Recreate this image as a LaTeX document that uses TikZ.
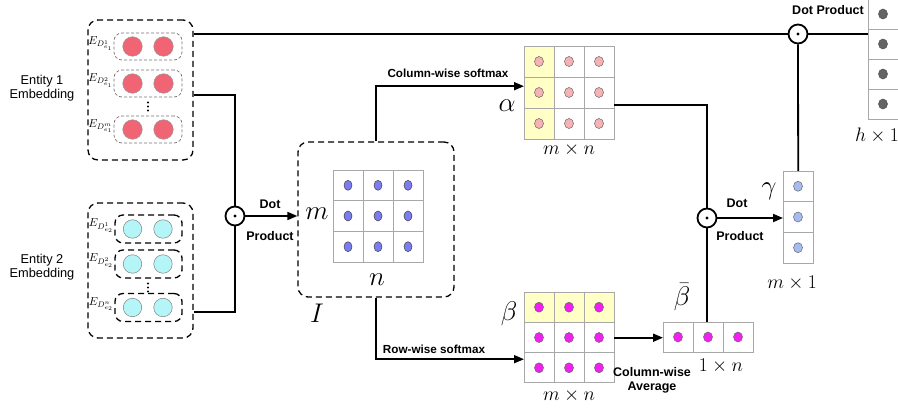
\RequirePackage{fix-cm}
\documentclass[tikz,border=0pt]{standalone}
\usepackage{fontspec}
\newfontfamily\labelfont{Liberation Sans}
\usetikzlibrary{arrows.meta}

\definecolor{entred}{HTML}{F06474}
\definecolor{entcyan}{HTML}{B4F6F8}
\definecolor{simblue}{HTML}{7C7CF2}
\definecolor{alphapink}{HTML}{F6B2B4}
\definecolor{betamag}{HTML}{F020F0}
\definecolor{gamblue}{HTML}{A4BCF0}
\definecolor{hgray}{HTML}{646464}
\definecolor{hilite}{HTML}{FFFFC6}
\definecolor{cellline}{HTML}{A8A8A8}

\begin{document}
\begin{tikzpicture}[x=1pt,y=-1pt,
  conn/.style={line width=1.8pt, draw=black},
  arr/.style={conn, -{Triangle[length=10pt,width=8pt]}},
  odot/.style={circle, draw, line width=1.8pt, minimum size=19pt, inner sep=0pt, fill=white},
  outerbox/.style={draw, line width=1.3pt, dash pattern=on 6pt off 4pt, rounded corners=10pt, inner sep=0pt},
  rowboxA/.style={draw=black!55, line width=0.7pt, dash pattern=on 3pt off 2pt, rounded corners=8pt,
    minimum width=68pt, minimum height=27pt, inner sep=0pt},
  rowboxB/.style={draw, line width=1.3pt, dash pattern=on 6pt off 4pt, rounded corners=8pt,
    minimum width=67pt, minimum height=28pt, inner sep=0pt},
  redball/.style={circle, fill=entred, draw=black!40, line width=0.5pt, minimum size=19.5pt, inner sep=0pt},
  cyanball/.style={circle, fill=entcyan, draw=black!50, line width=0.5pt, minimum size=18.5pt, inner sep=0pt},
  cell/.style={draw=cellline, line width=0.8pt},
  matbox/.style={inner sep=0pt, anchor=north west},
  bluedot/.style={fill=simblue, draw=black!75, line width=0.5pt},
  pinkdot/.style={fill=alphapink, draw=black!60, line width=0.5pt},
  magdot/.style={fill=betamag, draw=black!60, line width=0.5pt},
  gamdot/.style={fill=gamblue, draw=black!60, line width=0.5pt},
  graydot/.style={fill=hgray, draw=black!70, line width=0.5pt},
  sanslab/.style={font=\labelfont\fontsize{12.8}{14}\selectfont, align=center},
  boldlab/.style={font=\labelfont\bfseries\fontsize{12.5}{14}\selectfont},
  softlab/.style={font=\labelfont\bfseries\fontsize{11.7}{13}\selectfont},
  biglab/.style={font=\fontsize{27}{27}\selectfont, inner sep=0pt},
  dimlab/.style={font=\fontsize{19.5}{19.5}\selectfont, inner sep=0pt},
  elab/.style={font=\fontsize{11.5}{11.5}\selectfont, inner sep=0pt, anchor=base east}
]
\useasboundingbox (0,0) rectangle (898,414);
\clip (0,0) rectangle (898,414);

% ---------- entity 1 embedding ----------
\node[sanslab] (lab1) at (42,88) {Entity 1\\Embedding};
\node[outerbox, minimum width=105pt, minimum height=140pt] (e1) at (140.5,90) {};
\node[rowboxA] (r11) at (148,46.5) {};
\node[rowboxA] (r12) at (148,83.5) {};
\node[rowboxA] (r13) at (148,129.5) {};
\foreach \r/\yy in {r11/46.5, r12/83.5, r13/129.5}{
  \node[redball] (\r a) at (132.5,\yy) {};
  \node[redball] (\r b) at (163.5,\yy) {};
}
\node[elab] (el11) at (113.3,44.5) {$E_{D^{1}_{e_1}}$};
\node[elab] (el12) at (113.3,81.5) {$E_{D^{2}_{e_1}}$};
\node[elab] (el13) at (113.3,127.5) {$E_{D^{m}_{e_1}}$};
\foreach \yy in {102.5,106.5,110.5}{\fill (148,\yy) circle[radius=1.2pt];}

% ---------- entity 2 embedding ----------
\node[sanslab] (lab2) at (42,267) {Entity 2\\Embedding};
\node[outerbox, minimum width=105pt, minimum height=135pt] (e2) at (140.5,270.5) {};
\node[rowboxB] (r21) at (148.5,229) {};
\node[rowboxB] (r22) at (148.5,264) {};
\node[rowboxB] (r23) at (148.5,307.5) {};
\foreach \r/\yy in {r21/229, r22/264, r23/307.5}{
  \node[cyanball] (\r a) at (132.5,\yy) {};
  \node[cyanball] (\r b) at (163,\yy) {};
}
\node[elab] (el21) at (113.8,227) {$E_{D^{1}_{e_2}}$};
\node[elab] (el22) at (113.8,262) {$E_{D^{2}_{e_2}}$};
\node[elab] (el23) at (113.8,305.5) {$E_{D^{n}_{e_2}}$};
\foreach \yy in {283.5,287.5,291.5}{\fill (148,\yy) circle[radius=1.2pt];}

% ---------- interaction matrix I ----------
\node[outerbox, minimum width=156pt, minimum height=155pt] (Ibox) at (376,219.5) {};
\node[matbox, minimum width=90pt, minimum height=92pt] (Imat) at (333,170) {};
\foreach \i in {0,1,2}{\foreach \j in {0,1,2}{
  \draw[cell] ({333+30*\i},{170+30.7*\j}) rectangle ++(30,30.7);
  \filldraw[bluedot] ({348+30*\i},{185.3+30.7*\j}) ellipse[x radius=4pt, y radius=5pt];
}}
\node[biglab] (mlab) at (317,214) {$m$};
\node[biglab] (nlab) at (377,280) {$n$};
\node[biglab] (Ilab) at (317,313) {$I$};

% ---------- alpha ----------
\node[matbox, minimum width=90pt, minimum height=93pt] (alpha) at (524,46) {};
\fill[hilite] (524,46) rectangle (554,139);
\foreach \i in {0,1,2}{\foreach \j in {0,1,2}{
  \draw[cell] ({524+30*\i},{46+31*\j}) rectangle ++(30,31);
  \filldraw[pinkdot] ({539+30*\i},{61.5+31*\j}) ellipse[x radius=4.5pt, y radius=5pt];
}}
\node[biglab] (alab) at (507,106) {$\alpha$};
\node[dimlab] (amn) at (569,150) {$m\times n$};

% ---------- beta ----------
\node[matbox, minimum width=90pt, minimum height=91pt] (beta) at (524,292) {};
\fill[hilite] (524,292) rectangle (614,322.3);
\foreach \i in {0,1,2}{\foreach \j in {0,1,2}{
  \draw[cell] ({524+30*\i},{292+30.3*\j}) rectangle ++(30,30.3);
  \filldraw[magdot] ({539+30*\i},{307.2+30.3*\j}) ellipse[x radius=4.5pt, y radius=5pt];
}}
\node[biglab] (blab) at (509,314) {$\beta$};
\node[dimlab] (bmn) at (569,396) {$m\times n$};

% ---------- beta bar ----------
\node[matbox, minimum width=90pt, minimum height=30pt] (bbar) at (663,322) {};
\foreach \i in {0,1,2}{
  \draw[cell] ({663+30*\i},322) rectangle ++(30,30);
  \filldraw[magdot] ({678+30*\i},337) ellipse[x radius=4.5pt, y radius=5pt];
}
\node[biglab] (bblab) at (682,297) {$\bar{\beta}$};
\node[dimlab] (b1n) at (721,366) {$1\times n$};
\node[boldlab, align=center, inner sep=0pt] (cwavg) at (652,380) {Column-wise\\Average};

% ---------- gamma ----------
\node[matbox, minimum width=30pt, minimum height=92pt] (gamma) at (783,171) {};
\foreach \j in {0,1,2}{
  \draw[cell] (783,{171+30.7*\j}) rectangle ++(30,30.7);
  \filldraw[gamdot] (798,{186.3+30.7*\j}) ellipse[x radius=4.5pt, y radius=5pt];
}
\node[biglab] (glab) at (769,191) {$\gamma$};
\node[dimlab] (gm1) at (792,283) {$m\times 1$};

% ---------- h vector ----------
\node[matbox, minimum width=32pt, minimum height=120pt] (hvec) at (868,-1) {};
\foreach \j in {0,1,2,3}{
  \draw[cell] (868,{-1+30*\j}) rectangle ++(32,30);
  \filldraw[graydot] (883,{14+30*\j}) ellipse[x radius=4.5pt, y radius=5pt];
}
\node[dimlab] (h1) at (877,136) {$h\times 1$};

% ---------- dot-product junctions ----------
\node[odot] (dot1) at (235,216) {};
\node[odot] (dot2) at (707,218) {};
\node[odot] (dot3) at (798,34) {};
\foreach \d in {dot1,dot2,dot3}{\fill (\d) circle[radius=1.7pt];}

% ---------- connectors ----------
\draw[conn] ([yshift=-5pt]e1.east) -| (dot1.north);
\draw[conn] ([yshift=-41.5pt]e2.east) -| (dot1.south);
\draw[arr] (dot1.east) -- (dot1 -| Ibox.west);
\node[boldlab] (dp1a) at (270,204) {Dot};
\node[boldlab] (dp1b) at (270,236) {Product};

\draw[arr] (Ibox.north) |- ([yshift=6.5pt]alpha.west);
\node[softlab] (cws) at (448,73) {Column-wise softmax};
\draw[arr] (Ibox.south) |- ([yshift=-21.5pt]beta.west);
\node[softlab] (rws) at (434,349) {Row-wise softmax};

\draw[arr] (beta.east) -- (beta.east -| bbar.west);
\draw[conn] ([yshift=-12.5pt]alpha.east) -| (dot2.north);
\draw[conn] (dot2 |- bbar.north) -- (dot2.south);
\draw[arr] (dot2.east) -- (dot2 -| gamma.west);
\node[boldlab] (dp2a) at (737,203) {Dot};
\node[boldlab] (dp2b) at (740,236) {Product};

\draw[conn] (gamma.north) -- (dot3.south);
\draw[conn] (dot3 -| e1.east) -- (dot3.west);
\draw[conn] (dot3.east) -- (dot3 -| hvec.west);
\node[boldlab] (dp3) at (828,10) {Dot Product};
\end{tikzpicture}
\end{document}
